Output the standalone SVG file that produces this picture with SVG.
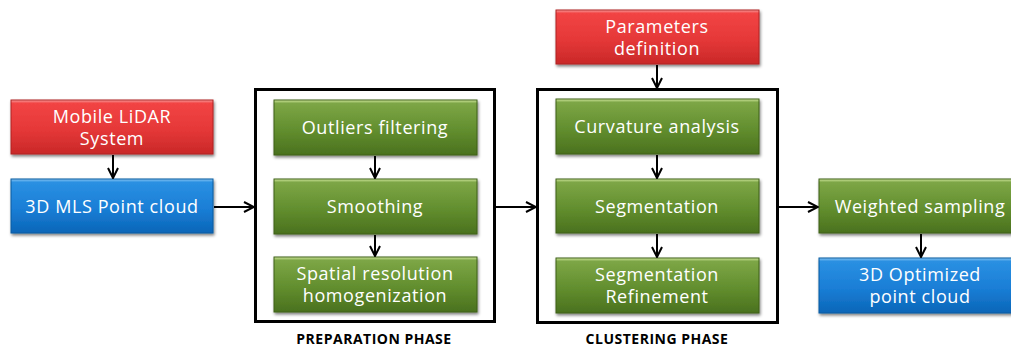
<svg xmlns="http://www.w3.org/2000/svg" width="1011" height="347" viewBox="0 0 1011 347">
  <defs>
    <linearGradient id="gRed" x1="0" y1="0" x2="0" y2="1">
      <stop offset="0" stop-color="#f7a0a0"/>
      <stop offset="0.06" stop-color="#f24444"/>
      <stop offset="0.55" stop-color="#e53838"/>
      <stop offset="1" stop-color="#c92828"/>
    </linearGradient>
    <linearGradient id="gBlue" x1="0" y1="0" x2="0" y2="1">
      <stop offset="0" stop-color="#8cc8f4"/>
      <stop offset="0.06" stop-color="#2a90e2"/>
      <stop offset="0.55" stop-color="#1a7ed6"/>
      <stop offset="1" stop-color="#0a66b8"/>
    </linearGradient>
    <linearGradient id="gGreen" x1="0" y1="0" x2="0" y2="1">
      <stop offset="0" stop-color="#d4eaa0"/>
      <stop offset="0.06" stop-color="#7da646"/>
      <stop offset="0.55" stop-color="#628e2e"/>
      <stop offset="1" stop-color="#4a711e"/>
    </linearGradient>
    <filter id="shadow" x="-10%" y="-10%" width="125%" height="140%">
      <feGaussianBlur in="SourceAlpha" stdDeviation="1.5"/>
      <feOffset dx="1" dy="2" result="b"/>
      <feComponentTransfer><feFuncA type="linear" slope="0.5"/></feComponentTransfer>
      <feMerge><feMergeNode/><feMergeNode in="SourceGraphic"/></feMerge>
    </filter>
    <marker id="arrow" viewBox="0 0 12 12" refX="11" refY="6" markerWidth="12" markerHeight="12" markerUnits="userSpaceOnUse" orient="auto">
      <path d="M1,1 L11,6 L1,11" fill="none" stroke="#000" stroke-width="2"/>
    </marker>
  </defs>
  <style>
    .box { filter: url(#shadow); stroke-width: 1; }
    .red { fill: url(#gRed); stroke: #b02222; }
    .blue { fill: url(#gBlue); stroke: #0a5aa0; }
    .green { fill: url(#gGreen); stroke: #3e6018; }
    .lbl { font-family: "Open Sans", "DejaVu Sans", sans-serif; font-size: 18px; letter-spacing: 0.6px; fill: #fff; text-anchor: middle; }
    .phase { font-family: "Open Sans", "DejaVu Sans", sans-serif; font-size: 14px; font-weight: bold; letter-spacing: 0.5px; fill: #000; text-anchor: middle; }
    .frame { fill: none; stroke: #000; stroke-width: 3; }
    .conn { fill: none; stroke: #000; stroke-width: 2; marker-end: url(#arrow); }
  </style>

  <rect width="1011" height="347" fill="#fff"/>

  <!-- phase frames -->
  <g id="preparation-phase">
    <rect class="frame" x="255.5" y="89.5" width="239" height="232"/>
    <text class="phase" x="374" y="344">PREPARATION PHASE</text>
  </g>
  <g id="clustering-phase">
    <rect class="frame" x="537.5" y="89.5" width="240" height="233"/>
    <text class="phase" x="657" y="344">CLUSTERING PHASE</text>
  </g>

  <!-- inputs -->
  <g id="mobile-lidar">
    <rect class="box red" x="11" y="100" width="202" height="54"/>
    <text class="lbl" x="112" y="123">Mobile LiDAR</text>
    <text class="lbl" x="112" y="145">System</text>
  </g>
  <g id="mls-cloud">
    <rect class="box blue" x="11" y="179" width="202" height="54"/>
    <text class="lbl" x="112" y="213">3D MLS Point cloud</text>
  </g>
  <g id="parameters">
    <rect class="box red" x="556" y="10" width="203" height="54"/>
    <text class="lbl" x="657" y="33">Parameters</text>
    <text class="lbl" x="657" y="55">definition</text>
  </g>

  <!-- preparation steps -->
  <g id="outliers">
    <rect class="box green" x="274" y="100" width="203" height="55"/>
    <text class="lbl" x="375" y="134">Outliers filtering</text>
  </g>
  <g id="smoothing">
    <rect class="box green" x="274" y="179" width="203" height="55"/>
    <text class="lbl" x="375" y="213">Smoothing</text>
  </g>
  <g id="spatial-resolution">
    <rect class="box green" x="274" y="257" width="203" height="55"/>
    <text class="lbl" x="375" y="280">Spatial resolution</text>
    <text class="lbl" x="375" y="302">homogenization</text>
  </g>

  <!-- clustering steps -->
  <g id="curvature">
    <rect class="box green" x="556" y="99" width="203" height="55"/>
    <text class="lbl" x="657" y="133">Curvature analysis</text>
  </g>
  <g id="segmentation">
    <rect class="box green" x="556" y="179" width="203" height="54"/>
    <text class="lbl" x="657" y="213">Segmentation</text>
  </g>
  <g id="segmentation-refinement">
    <rect class="box green" x="556" y="258" width="203" height="55"/>
    <text class="lbl" x="657" y="281">Segmentation</text>
    <text class="lbl" x="657" y="303">Refinement</text>
  </g>

  <!-- output -->
  <g id="weighted-sampling">
    <rect class="box green" x="819" y="179" width="203" height="54"/>
    <text class="lbl" x="920" y="213">Weighted sampling</text>
  </g>
  <g id="optimized-cloud">
    <rect class="box blue" x="819" y="258" width="203" height="55"/>
    <text class="lbl" x="920" y="281">3D Optimized</text>
    <text class="lbl" x="920" y="303">point cloud</text>
  </g>

  <!-- connectors -->
  <g id="connectors">
    <line class="conn" x1="113" y1="155" x2="113" y2="178"/>
    <line class="conn" x1="214" y1="207" x2="254" y2="207"/>
    <line class="conn" x1="375" y1="156" x2="375" y2="178"/>
    <line class="conn" x1="375" y1="235" x2="375" y2="256"/>
    <line class="conn" x1="496" y1="207" x2="536" y2="207"/>
    <line class="conn" x1="657" y1="65" x2="657" y2="88"/>
    <line class="conn" x1="657" y1="155" x2="657" y2="178"/>
    <line class="conn" x1="657" y1="234" x2="657" y2="257"/>
    <line class="conn" x1="779" y1="207" x2="818" y2="207"/>
    <line class="conn" x1="921" y1="234" x2="921" y2="257"/>
  </g>
</svg>
